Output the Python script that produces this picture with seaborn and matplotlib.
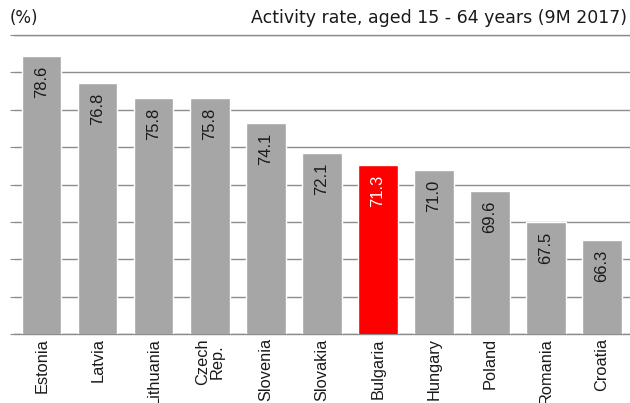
import matplotlib
matplotlib.use('Agg')
import matplotlib.pyplot as plt
import seaborn as sns
import pandas as pd

# data
countries = ['Estonia', 'Latvia', 'Lithuania', 'Czech\nRep.', 'Slovenia', 'Slovakia',
             'Bulgaria', 'Hungary', 'Poland', 'Romania', 'Croatia']
rates = [78.6, 76.8, 75.8, 75.8, 74.1, 72.1, 71.3, 71.0, 69.6, 67.5, 66.3]
highlight = 'Bulgaria'

df = pd.DataFrame({'country': countries, 'rate': rates})
colors = {c: ('#ff0000' if c == highlight else '#a6a6a6') for c in countries}

sns.set_style('white')
plt.rcParams['font.family'] = ['Liberation Sans', 'DejaVu Sans']

fig = plt.figure(figsize=(6.3, 4.03), dpi=100)
ax = fig.add_axes([0.022, 0.171, 0.978, 0.742])

sns.barplot(data=df, x='country', y='rate', hue='country', palette=colors,
            saturation=1, width=0.7, legend=False, ax=ax, zorder=3)

ax.set_ylim(60, 80)
ax.set_xlim(-0.5, len(countries) - 0.5)
ax.set_yticks([60 + 2.5 * i for i in range(9)])
ax.set_yticklabels([])
ax.yaxis.grid(True, color='#8c8c8c', linewidth=1)
ax.set_axisbelow(True)

# ticks between categories
ax.set_xticks([i - 0.5 for i in range(len(countries) + 1)], minor=True)
ax.tick_params(axis='x', which='minor', length=4, color='#8c8c8c', width=1)
ax.tick_params(axis='x', which='major', length=0, pad=3)
ax.tick_params(axis='y', length=3, color='#8c8c8c', left=True)
ax.set_xticks(range(len(countries)))
ax.set_xticklabels(countries, rotation=90, fontsize=11.8, va='top',
                   linespacing=0.95, color='#1a1a1a')

for s in ['left', 'right']:
    ax.spines[s].set_visible(False)
for s in ['top', 'bottom']:
    ax.spines[s].set_color('#8c8c8c')
    ax.spines[s].set_linewidth(1)

ax.set_xlabel('')
ax.set_ylabel('')

for i, (c, v) in enumerate(zip(countries, rates)):
    ax.annotate(f'{v:.1f}', (i, v), xytext=(0, -7), textcoords='offset points',
                rotation=90, ha='center', va='top', fontsize=12,
                color='white' if c == highlight else '#1a1a1a', zorder=4)

fig.text(0.016, 0.955, '(%)', fontsize=12, color='#1a1a1a', ha='left', va='center',
         family='DejaVu Sans')
fig.text(0.995, 0.955, 'Activity rate, aged 15 - 64 years (9M 2017)', fontsize=12.5,
         color='#1a1a1a', ha='right', va='center', family='DejaVu Sans')

fig.savefig('out.png', dpi=100)
